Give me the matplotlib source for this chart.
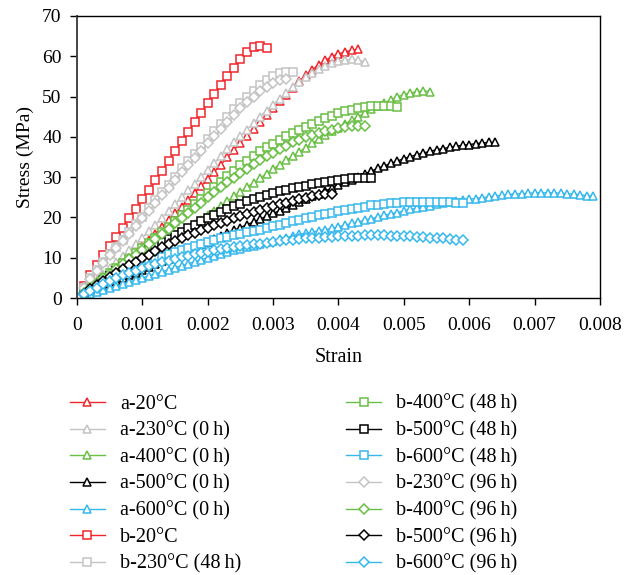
import matplotlib
matplotlib.use("Agg")
import matplotlib.pyplot as plt

plt.rcParams["font.family"] = ["Liberation Serif", "DejaVu Serif"]

# Strain readings shared by all specimens (one reading every 0.0001)
strain = [0.0000, 0.0001, 0.0002, 0.0003, 0.0004, 0.0005, 0.0006, 0.0007, 0.0008, 0.0009,
          0.0010, 0.0011, 0.0012, 0.0013, 0.0014, 0.0015, 0.0016, 0.0017, 0.0018, 0.0019,
          0.0020, 0.0021, 0.0022, 0.0023, 0.0024, 0.0025, 0.0026, 0.0027, 0.0028, 0.0029,
          0.0030, 0.0031, 0.0032, 0.0033, 0.0034, 0.0035, 0.0036, 0.0037, 0.0038, 0.0039,
          0.0040, 0.0041, 0.0042, 0.0043, 0.0044, 0.0045, 0.0046, 0.0047, 0.0048, 0.0049,
          0.0050, 0.0051, 0.0052, 0.0053, 0.0054, 0.0055, 0.0056, 0.0057, 0.0058, 0.0059,
          0.0060, 0.0061, 0.0062, 0.0063, 0.0064, 0.0065, 0.0066, 0.0067, 0.0068, 0.0069,
          0.0070, 0.0071, 0.0072, 0.0073, 0.0074, 0.0075, 0.0076, 0.0077, 0.0078, 0.0079]

# Stress (MPa) for each specimen
a_20 = [0, 1.3, 2.6, 3.9, 5.2, 6.5, 7.8, 9.1, 10.5, 11.8, 13.1, 14.5, 16.0, 17.6, 19.3,
        21.0, 22.7, 24.4, 26.1, 27.8, 29.5, 31.3, 33.1, 34.9, 36.7, 38.5, 40.3, 42.0,
        43.7, 45.4, 47.1, 48.8, 50.5, 52.2, 53.8, 55.3, 56.7, 57.9, 59.0, 59.9, 60.6,
        61.1, 61.5, 61.7]
a_230 = [0, 1.5, 3.0, 4.5, 6.0, 7.5, 9.0, 10.5, 12.0, 13.5, 15.0, 16.6, 18.2, 19.9, 21.6,
         23.3, 25.0, 26.7, 28.4, 30.1, 31.8, 33.5, 35.2, 36.9, 38.6, 40.2, 41.8, 43.4,
         45.0, 46.5, 48.0, 49.5, 50.9, 52.3, 53.6, 54.8, 55.9, 56.8, 57.6, 58.3, 58.8,
         59.1, 59.2, 59.0, 58.7]
a_400 = [0, 0.9, 1.8, 2.7, 3.6, 4.5, 5.5, 6.5, 7.5, 8.5, 9.5, 10.6, 11.7, 12.8, 13.9,
         15.0, 16.1, 17.2, 18.3, 19.4, 20.5, 21.6, 22.8, 24.0, 25.2, 26.4, 27.5, 28.6,
         29.7, 30.9, 32.0, 33.1, 34.2, 35.2, 36.3, 37.3, 38.4, 39.4, 40.4, 41.4, 42.3,
         43.2, 44.1, 45.0, 45.9, 46.8, 47.6, 48.4, 49.2, 49.9, 50.5, 50.9, 51.2, 51.4,
         51.2]
a_500 = [0, 0.7, 1.4, 2.1, 2.8, 3.5, 4.2, 4.9, 5.6, 6.3, 7.0, 7.7, 8.4, 9.1, 9.8, 10.5,
         11.2, 11.9, 12.6, 13.3, 14.0, 14.7, 15.4, 16.1, 16.8, 17.5, 18.2, 18.9, 19.6,
         20.3, 21.0, 21.7, 22.4, 23.1, 23.8, 24.5, 25.2, 25.9, 26.6, 27.3, 28.0, 28.7,
         29.4, 30.1, 30.8, 31.5, 32.2, 32.8, 33.4, 34.0, 34.6, 35.1, 35.6, 36.0, 36.4,
         36.8, 37.1, 37.4, 37.7, 37.9, 38.1, 38.3, 38.5, 38.6, 38.6]
a_600 = [0, 0.5, 1.0, 1.5, 2.0, 2.5, 3.0, 3.5, 4.0, 4.5, 5.0, 5.5, 6.0, 6.5, 7.0, 7.5,
         8.0, 8.5, 9.0, 9.5, 10.0, 10.5, 11.0, 11.4, 11.8, 12.2, 12.6, 13.0, 13.4, 13.8,
         14.2, 14.6, 15.0, 15.4, 15.8, 16.1, 16.4, 16.7, 17.0, 17.3, 17.7, 18.1, 18.5,
         18.9, 19.3, 19.7, 20.1, 20.5, 20.9, 21.2, 21.6, 22.0, 22.3, 22.6, 22.9, 23.3,
         23.6, 23.9, 24.1, 24.3, 24.5, 24.7, 24.9, 25.1, 25.3, 25.5, 25.7, 25.8, 25.9,
         26.0, 26.1, 26.1, 26.1, 26.1, 26.0, 25.9, 25.8, 25.6, 25.4, 25.3]
b_20 = [0, 3.0, 5.8, 8.2, 10.6, 12.9, 15.2, 17.5, 19.9, 22.2, 24.5, 26.9, 29.2, 31.6,
        34.0, 36.5, 38.9, 41.2, 43.6, 46.0, 48.3, 50.6, 52.9, 55.1, 57.1, 59.2, 61.0,
        62.2, 62.6, 62.0]
b_230_48 = [0, 2.6, 4.9, 7.0, 9.0, 11.0, 12.6, 14.5, 16.4, 18.3, 20.2, 22.3, 24.3, 26.2,
            28.1, 30.0, 32.2, 34.0, 35.8, 37.6, 39.5, 41.4, 43.3, 45.0, 46.8, 48.4, 50.0,
            51.5, 52.9, 54.1, 55.1, 55.9, 56.2, 56.0]
b_400_48 = [0, 1.3, 2.6, 3.8, 5.0, 6.2, 7.4, 8.6, 9.8, 11.1, 12.3, 13.6, 14.9, 16.3,
            17.7, 19.1, 20.5, 21.9, 23.3, 24.7, 26.1, 27.5, 28.9, 30.3, 31.6, 32.9, 34.1,
            35.3, 36.4, 37.4, 38.3, 39.2, 40.1, 40.9, 41.7, 42.5, 43.3, 44.0, 44.7, 45.3,
            45.8, 46.3, 46.7, 47.1, 47.4, 47.6, 47.7, 47.7, 47.6, 47.3]
b_500_48 = [0, 1.1, 2.2, 3.3, 4.4, 5.5, 6.6, 7.7, 8.8, 9.8, 10.8, 11.8, 12.8, 13.8, 14.7,
            15.6, 16.5, 17.4, 18.2, 19.0, 19.8, 20.6, 21.4, 22.1, 22.8, 23.4, 24.0, 24.6,
            25.1, 25.6, 26.1, 26.5, 26.9, 27.3, 27.6, 27.9, 28.2, 28.5, 28.8, 29.0, 29.3,
            29.5, 29.7, 29.8, 29.8, 29.8]
b_600_48 = [0, 1.0, 2.0, 3.0, 3.9, 4.8, 5.6, 6.4, 7.1, 7.8, 8.5, 9.1, 9.7, 10.3, 10.9,
            11.5, 12.0, 12.5, 13.0, 13.5, 14.0, 14.4, 14.8, 15.2, 15.6, 16.0, 16.4, 16.7,
            17.0, 17.3, 17.8, 18.2, 18.6, 19.0, 19.4, 19.8, 20.2, 20.6, 20.9, 21.2, 21.5,
            21.8, 22.1, 22.4, 22.7, 23.0, 23.2, 23.4, 23.6, 23.7, 23.8, 23.9, 23.9, 23.9,
            23.9, 23.9, 23.8, 23.8, 23.7, 23.6]
b_230_96 = [0, 2.5, 4.7, 6.8, 8.7, 10.6, 12.3, 14.1, 16.0, 17.9, 19.8, 21.7, 23.6, 25.5,
            27.4, 29.3, 31.2, 33.0, 34.8, 36.6, 38.4, 40.2, 42.0, 43.8, 45.5, 47.1, 48.6,
            50.0, 51.3, 52.4, 53.3, 54.0, 54.4]
b_400_96 = [0, 1.3, 2.5, 3.7, 4.9, 6.0, 7.2, 8.4, 9.6, 10.8, 12.0, 13.3, 14.6, 15.9,
            17.2, 18.5, 19.8, 21.1, 22.4, 23.7, 25.0, 26.3, 27.5, 28.7, 29.9, 31.0, 32.1,
            33.2, 34.2, 35.2, 36.1, 37.0, 37.8, 38.6, 39.3, 39.9, 40.5, 41.0, 41.4, 41.8,
            42.1, 42.4, 42.6, 42.7, 42.6]
b_500_96 = [0, 1.1, 2.2, 3.2, 4.2, 5.2, 6.2, 7.2, 8.1, 9.0, 9.9, 10.8, 11.7, 12.6, 13.4,
            14.2, 14.9, 15.6, 16.2, 16.8, 17.4, 18.0, 18.6, 19.2, 19.8, 20.3, 20.8, 21.3,
            21.8, 22.3, 22.8, 23.3, 23.7, 24.1, 24.5, 24.9, 25.2, 25.5, 25.8, 25.8]
b_600_96 = [0, 0.9, 1.8, 2.6, 3.4, 4.2, 4.9, 5.6, 6.2, 6.8, 7.4, 7.9, 8.4, 8.9, 9.3, 9.7,
            10.1, 10.5, 10.9, 11.2, 11.5, 11.8, 12.1, 12.4, 12.6, 12.9, 13.1, 13.3, 13.5,
            13.7, 13.9, 14.1, 14.3, 14.5, 14.7, 14.8, 14.9, 15.0, 15.1, 15.2, 15.3, 15.4,
            15.5, 15.5, 15.6, 15.6, 15.6, 15.6, 15.5, 15.5, 15.4, 15.3, 15.2, 15.1, 15.0,
            14.9, 14.8, 14.7, 14.5, 14.4]

x_ticks = [0, 0.001, 0.002, 0.003, 0.004, 0.005, 0.006, 0.007, 0.008]
x_tick_labels = ["0", "0.001", "0.002", "0.003", "0.004", "0.005", "0.006", "0.007", "0.008"]
y_ticks = [0, 10, 20, 30, 40, 50, 60, 70]

RED = "#f0262b"
GRAY = "#c4c4c4"
GREEN = "#6abf45"
BLACK = "#000000"
BLUE = "#36b8ec"

series = [
    ("a-20°C", a_20, RED, "^"),
    ("a-230°C (0\u2009h)", a_230, GRAY, "^"),
    ("a-400°C (0\u2009h)", a_400, GREEN, "^"),
    ("a-500°C (0\u2009h)", a_500, BLACK, "^"),
    ("a-600°C (0\u2009h)", a_600, BLUE, "^"),
    ("b-20°C", b_20, RED, "s"),
    ("b-230°C (48\u2009h)", b_230_48, GRAY, "s"),
    ("b-400°C (48\u2009h)", b_400_48, GREEN, "s"),
    ("b-500°C (48\u2009h)", b_500_48, BLACK, "s"),
    ("b-600°C (48\u2009h)", b_600_48, BLUE, "s"),
    ("b-230°C (96\u2009h)", b_230_96, GRAY, "D"),
    ("b-400°C (96\u2009h)", b_400_96, GREEN, "D"),
    ("b-500°C (96\u2009h)", b_500_96, BLACK, "D"),
    ("b-600°C (96\u2009h)", b_600_96, BLUE, "D"),
]

fig = plt.figure(figsize=(6.24, 5.75), dpi=100)
ax = fig.add_axes([0.1234, 0.4817, 0.8381, 0.4905])

for label, stress, color, marker in series:
    ms = 4.6 if marker == "D" else 5.2
    ax.plot(strain[:len(stress)], stress, color=color, lw=1.0, marker=marker,
            ms=ms, mfc="white", mec=color, mew=1.1, label=label)

ax.set_xlim(0, 0.008)
ax.set_ylim(0, 70)
ax.set_xticks(x_ticks)
ax.set_xticklabels(x_tick_labels)
ax.set_yticks(y_ticks)
ax.tick_params(axis="both", direction="out", length=5, width=1.0, labelsize=14,
               colors="black")
ax.tick_params(axis="x", pad=9)
ax.tick_params(axis="y", pad=6)
for side in ["left", "bottom", "top", "right"]:
    ax.spines[side].set_linewidth(1.0)
    ax.spines[side].set_color("black")
ax.spines["left"].set_color("#444444")
ax.spines["left"].set_linewidth(1.4)

ax.set_xlabel("Strain", fontsize=14.5, labelpad=10)
ax.set_ylabel("Stress (MPa)", fontsize=14, labelpad=6)

handles, labels = ax.get_legend_handles_labels()
fig.legend(handles, labels, loc="upper left", bbox_to_anchor=(0.099, 0.328),
           ncol=2, frameon=False, fontsize=14.5, numpoints=1,
           handlelength=1.75, handletextpad=0.75, columnspacing=5.2,
           labelspacing=0.36, borderaxespad=0.0)

fig.savefig("out.png", dpi=100)
